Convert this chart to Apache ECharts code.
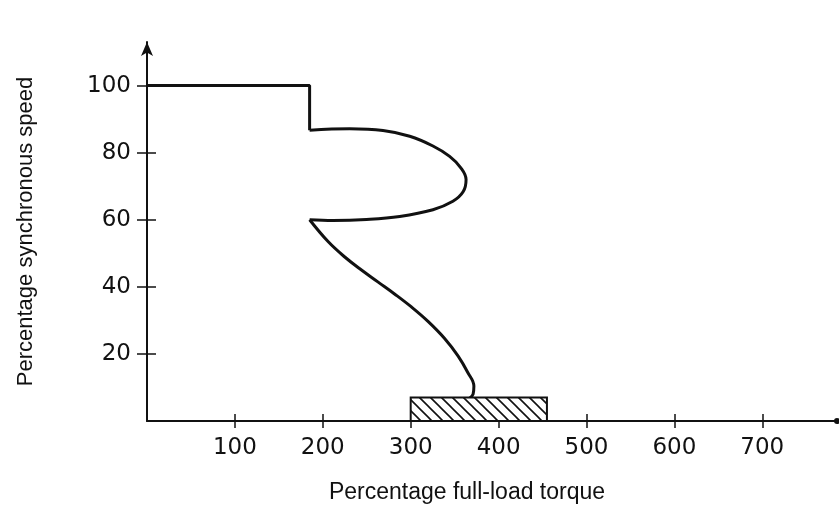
<!DOCTYPE html>
<html>
<head>
<meta charset="utf-8">
<script src="https://cdn.jsdelivr.net/npm/echarts@6/dist/echarts.min.js"></script>
<style>
html,body{margin:0;padding:0;background:#fff;}
#chart{width:839px;height:505px;}
</style>
</head>
<body>
<div id="chart"></div>
<script>
// Data (torque %, speed %)
var xTickLabels = [100, 200, 300, 400, 500, 600, 700];
var yTickLabels = [20, 40, 60, 80, 100];
var stepSegment = [[0, 100], [185, 100], [185, 86.7]];
var loopSegment = [[185, 86.7], [230.7, 87.1], [268.5, 86.6], [298.9, 84.9], [325.3, 82], [344.3, 78.9], [357, 75.5], [363, 72], [359.8, 68.4], [348, 65.5], [325.3, 63], [287.5, 61], [249.7, 60.1], [211.7, 59.8], [185, 60]];
var sSegment = [[185, 60], [206, 53.5], [225, 48.9], [244, 45], [263, 41.4], [282, 37.8], [300.8, 34], [319.7, 29.7], [338.6, 24.6], [353.8, 19.4], [365.1, 14.4], [371.9, 10.4], [371, 8], [367, 6.8]];
var hatchBox = [[300, 455, 7]]; // [xStart, xEnd, height]

var chart = echarts.init(document.getElementById('chart'));

var pc = document.createElement('canvas');
pc.width = 11; pc.height = 11;
var ctx = pc.getContext('2d');
ctx.fillStyle = '#fff'; ctx.fillRect(0, 0, 11, 11);
ctx.strokeStyle = '#111'; ctx.lineWidth = 1.6;
ctx.beginPath();
ctx.moveTo(-2, -2); ctx.lineTo(13, 13);
ctx.moveTo(-2, 9); ctx.lineTo(2, 13);
ctx.moveTo(9, -2); ctx.lineTo(13, 2);
ctx.stroke();

var fontFam = 'DejaVu Sans';
var ink = '#111';

function lineSeries(data, smooth) {
  return {
    type: 'line', data: data, smooth: smooth, showSymbol: false, symbol: 'none',
    lineStyle: { color: ink, width: 3 }, silent: true, z: 3
  };
}

chart.setOption({
  animation: false,
  backgroundColor: '#fff',
  grid: { left: 147, right: 2, top: 42, bottom: 84, outerBoundsMode: 'none', containLabel: false },
  xAxis: [{
    type: 'value', min: 0, max: 785, interval: 100,
    name: 'Percentage full-load torque', nameLocation: 'middle', nameGap: 60,
    nameTextStyle: { fontFamily: 'Liberation Sans', fontSize: 23, color: ink, padding: [0, 50, 0, 0] },
    axisLine: { show: true, lineStyle: { color: ink, width: 2 }, symbol: ['none', 'circle'], symbolSize: [6, 6] },
    axisTick: { show: true, length: 7, customValues: xTickLabels, lineStyle: { color: ink, width: 1.5 } },
    axisLabel: {
      margin: 16, fontFamily: fontFam, fontSize: 23, color: ink,
      customValues: xTickLabels
    },
    splitLine: { show: false }
  }, {
    type: 'value', min: 0, max: 785, interval: 100, position: 'bottom',
    axisLine: { show: false },
    axisTick: { show: true, inside: true, length: 7, customValues: xTickLabels, lineStyle: { color: ink, width: 1.5 } },
    axisLabel: { show: false }, splitLine: { show: false }
  }],
  yAxis: [{
    type: 'value', min: 0, max: 113, interval: 20,
    name: 'Percentage synchronous speed', nameLocation: 'middle', nameGap: 110,
    nameTextStyle: { fontFamily: 'Liberation Sans', fontSize: 22, color: ink },
    axisLine: { show: true, lineStyle: { color: ink, width: 2 }, symbol: ['none', 'arrow'], symbolSize: [9, 14] },
    axisTick: { show: true, length: 10, customValues: yTickLabels, lineStyle: { color: ink, width: 1.5 } },
    axisLabel: {
      margin: 16, fontFamily: fontFam, fontSize: 23, color: ink,
      customValues: yTickLabels
    },
    splitLine: { show: false }
  }, {
    type: 'value', min: 0, max: 113, interval: 20, position: 'left',
    axisLine: { show: false },
    axisTick: { show: true, inside: true, length: 9, customValues: yTickLabels, lineStyle: { color: ink, width: 1.5 } },
    axisLabel: { show: false }, splitLine: { show: false }
  }],
  series: [
    lineSeries(stepSegment, false),
    lineSeries(loopSegment, 0.4),
    lineSeries(sSegment, 0.4),
    {
      type: 'custom', data: hatchBox, z: 4, silent: true,
      renderItem: function (params, api) {
        var p0 = api.coord([api.value(0), api.value(2)]);
        var p1 = api.coord([api.value(1), 0]);
        return {
          type: 'rect',
          shape: { x: p0[0], y: p0[1], width: p1[0] - p0[0], height: p1[1] - p0[1] },
          style: { fill: { image: pc, repeat: 'repeat' }, stroke: ink, lineWidth: 2 }
        };
      }
    }
  ]
});
</script>
</body>
</html>
